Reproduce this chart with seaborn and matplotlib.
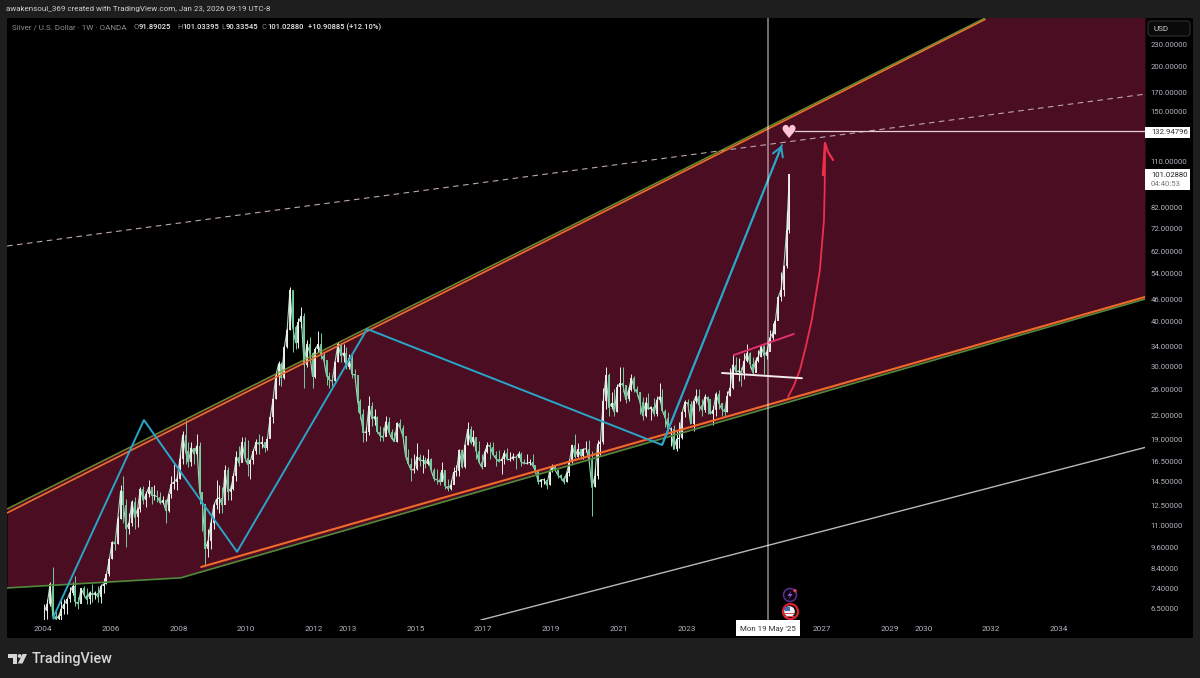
import numpy as np
import pandas as pd
import seaborn as sns
import matplotlib.pyplot as plt
from matplotlib.patches import Circle, FancyBboxPatch, Polygon, Rectangle
from matplotlib.transforms import Affine2D

W, H = 1200, 678

# Monthly candles, Jan 2004 - Jan 2026, one row a year.
bar_high = [
    6.7, 6.9, 7.7, 8.47, 6.4, 6.3, 6.9, 6.9, 6.95, 7.45, 7.7, 8.0,
    7.0, 7.4, 7.5, 7.4, 7.3, 7.6, 7.3, 7.5, 7.6, 7.9, 8.1, 9.0,
    10.0, 10.2, 11.7, 14.2, 15.0, 13.0, 11.9, 12.9, 13.2, 12.4, 14.0, 14.1,
    13.7, 14.7, 13.8, 14.2, 13.8, 13.6, 13.3, 13.0, 13.4, 15.0, 16.2, 15.2,
    17.3, 20.0, 21.4, 18.6, 18.6, 18.0, 19.6, 18.6, 13.6, 12.6, 10.8, 11.5,
    12.7, 14.7, 14.2, 14.0, 16.1, 15.9, 14.2, 15.3, 17.6, 18.2, 19.3, 19.2,
    18.9, 16.6, 17.8, 19.0, 19.6, 19.4, 18.7, 19.3, 22.0, 24.7, 29.0, 31.2,
    31.0, 34.3, 38.2, 49.5, 48.5, 39.0, 40.8, 43.7, 42.0, 35.5, 36.2, 33.0,
    34.0, 37.5, 37.2, 33.0, 30.8, 29.0, 28.5, 31.2, 35.0, 34.9, 34.6, 34.0,
    32.5, 32.4, 29.6, 28.0, 24.5, 23.0, 20.5, 25.0, 24.0, 23.0, 22.0, 20.6,
    20.5, 22.0, 21.8, 20.3, 19.9, 21.2, 21.5, 20.7, 19.4, 17.8, 16.9, 17.3,
    18.5, 17.3, 17.2, 17.0, 17.8, 16.9, 15.8, 15.7, 15.4, 16.4, 15.3, 14.8,
    14.7, 15.9, 16.1, 17.8, 17.8, 18.4, 21.1, 20.6, 20.1, 17.9, 18.8, 17.3,
    17.9, 18.6, 18.7, 18.7, 17.6, 17.7, 16.9, 17.7, 18.0, 17.5, 17.4, 17.0,
    17.6, 17.5, 16.8, 17.3, 16.7, 17.3, 16.0, 15.6, 14.8, 14.9, 14.6, 15.6,
    16.2, 16.0, 15.6, 15.2, 15.0, 15.5, 16.7, 18.3, 19.6, 18.5, 17.8, 18.0,
    18.8, 18.9, 17.6, 15.8, 18.9, 18.9, 26.2, 30.0, 28.9, 25.6, 26.0, 26.9,
    30.0, 30.0, 26.6, 26.6, 28.7, 28.3, 26.6, 25.6, 24.8, 24.8, 25.4, 23.3,
    24.7, 25.0, 27.0, 26.0, 23.0, 22.5, 20.5, 20.8, 20.0, 21.2, 22.3, 24.3,
    24.5, 24.2, 24.2, 26.1, 26.1, 24.5, 25.2, 25.0, 24.0, 23.4, 25.5, 25.9,
    23.8, 23.4, 25.8, 29.8, 32.5, 32.0, 31.8, 30.0, 32.7, 34.7, 33.0, 31.9,
    31.9, 33.3, 34.3, 34.5, 34.0, 37.8, 39.5, 40.5, 47.0, 54.5, 57.0, 80.0,
    101.03,
]
bar_low = [
    6.06, 6.1, 6.6, 6.1, 6.06, 6.06, 6.06, 6.3, 6.3, 6.8, 7.1, 6.6,
    6.5, 6.8, 7.0, 6.7, 6.7, 6.8, 6.9, 6.8, 6.75, 7.2, 7.6, 8.0,
    8.9, 9.4, 9.8, 11.5, 11.2, 9.6, 10.4, 11.0, 10.8, 10.9, 12.0, 12.6,
    12.4, 13.2, 12.6, 12.9, 12.8, 12.6, 12.6, 11.2, 12.0, 13.1, 13.9, 13.8,
    14.8, 16.2, 16.2, 15.9, 16.0, 16.2, 17.2, 12.6, 10.6, 8.5, 9.0, 9.5,
    10.8, 12.2, 11.9, 11.9, 13.8, 12.9, 12.9, 13.8, 14.6, 16.0, 16.4, 16.5,
    15.0, 14.8, 16.2, 17.3, 17.3, 18.0, 17.5, 17.7, 19.2, 21.0, 24.5, 26.8,
    26.6, 27.7, 33.8, 37.8, 33.0, 33.6, 33.7, 38.4, 26.3, 30.0, 31.0, 26.3,
    28.0, 33.0, 31.5, 30.5, 26.8, 26.2, 26.6, 27.2, 31.0, 31.0, 31.0, 29.5,
    29.5, 28.0, 28.0, 22.5, 21.5, 18.6, 18.8, 19.5, 20.6, 20.7, 19.8, 18.8,
    18.8, 19.6, 19.6, 19.0, 18.9, 18.7, 20.4, 19.2, 17.2, 16.3, 14.6, 15.3,
    15.6, 16.0, 15.3, 15.8, 16.1, 15.6, 14.6, 14.3, 14.2, 14.6, 13.9, 13.7,
    13.8, 14.3, 15.0, 15.0, 15.8, 15.8, 18.3, 18.4, 18.2, 16.7, 16.3, 15.7,
    16.0, 17.4, 16.8, 17.2, 16.0, 16.4, 15.2, 16.2, 16.6, 16.5, 16.6, 15.7,
    17.0, 16.0, 16.2, 16.2, 16.1, 16.0, 15.3, 14.3, 14.0, 14.3, 13.9, 14.2,
    15.4, 15.5, 14.9, 14.7, 14.3, 14.5, 15.0, 16.3, 16.9, 17.0, 16.7, 16.7,
    17.5, 16.6, 11.7, 14.0, 14.8, 17.2, 18.4, 23.0, 22.0, 22.9, 22.0, 22.5,
    24.2, 25.5, 23.8, 24.2, 25.8, 25.5, 24.9, 22.2, 21.4, 21.9, 22.9, 21.4,
    22.0, 22.0, 24.0, 22.6, 20.5, 20.2, 18.2, 17.9, 17.6, 18.0, 19.0, 21.9,
    22.7, 21.0, 20.0, 23.8, 22.7, 22.0, 22.5, 22.2, 22.2, 20.7, 22.0, 23.0,
    22.0, 22.0, 22.5, 25.0, 26.0, 28.6, 27.5, 26.5, 27.7, 31.0, 29.7, 28.5,
    29.1, 31.0, 32.0, 28.6, 31.6, 33.5, 35.5, 36.8, 40.3, 45.4, 46.9, 56.0,
    70.0,
]
bar_close = [
    6.4, 6.7, 7.6, 6.2, 6.1, 6.2, 6.5, 6.7, 6.9, 7.2, 7.5, 6.8,
    6.7, 7.4, 7.1, 6.9, 7.2, 7.1, 7.2, 7.0, 7.5, 7.6, 8.1, 8.9,
    9.9, 9.8, 11.5, 13.7, 12.5, 10.8, 11.2, 12.8, 11.6, 12.2, 13.9, 12.9,
    13.4, 14.0, 13.3, 13.3, 13.2, 12.7, 12.9, 12.1, 13.4, 14.3, 14.5, 14.8,
    16.8, 19.5, 17.6, 16.4, 18.0, 17.3, 18.2, 13.6, 12.6, 9.5, 10.0, 11.2,
    12.5, 13.0, 13.1, 12.5, 15.6, 13.6, 13.9, 15.0, 17.0, 16.3, 18.6, 16.9,
    16.2, 16.6, 17.6, 18.6, 18.4, 18.6, 18.0, 19.0, 21.8, 24.4, 28.3, 30.6,
    27.9, 33.9, 37.8, 48.7, 38.5, 34.9, 39.7, 41.3, 30.4, 34.6, 32.8, 28.2,
    33.5, 34.6, 32.4, 31.3, 28.3, 27.6, 27.4, 31.0, 34.6, 32.2, 32.7, 30.0,
    31.7, 28.6, 28.5, 24.1, 22.2, 19.8, 19.9, 23.4, 21.6, 21.9, 19.9, 19.4,
    19.2, 21.2, 19.9, 19.1, 18.7, 21.0, 20.4, 19.4, 17.0, 16.2, 15.6, 15.7,
    17.0, 16.6, 16.6, 16.2, 16.8, 15.6, 14.8, 14.7, 14.5, 15.6, 14.1, 13.9,
    14.2, 15.4, 15.5, 17.7, 15.9, 18.3, 20.2, 18.6, 19.2, 17.6, 16.4, 15.9,
    17.5, 18.3, 18.1, 17.2, 16.8, 16.5, 16.7, 17.4, 16.7, 16.7, 17.0, 16.9,
    17.3, 16.4, 16.3, 16.3, 16.4, 16.1, 15.5, 14.5, 14.7, 14.7, 14.2, 15.5,
    16.0, 15.6, 15.1, 14.9, 14.5, 15.3, 16.4, 18.3, 17.0, 17.8, 17.1, 17.8,
    17.9, 16.6, 14.0, 15.0, 18.4, 18.6, 24.2, 28.4, 23.2, 23.8, 22.6, 26.4,
    27.0, 26.7, 24.4, 25.9, 27.9, 26.1, 25.5, 24.0, 22.0, 23.9, 22.9, 23.3,
    22.3, 24.3, 24.8, 22.7, 21.7, 20.3, 20.3, 17.8, 19.0, 19.1, 22.5, 24.0,
    23.7, 20.9, 24.1, 25.0, 23.5, 22.8, 24.8, 24.5, 22.3, 22.8, 25.3, 23.8,
    23.0, 22.6, 25.0, 26.3, 30.4, 29.1, 29.2, 28.9, 31.2, 32.7, 30.6, 28.9,
    31.1, 32.0, 34.1, 32.2, 33.0, 36.0, 37.0, 40.0, 46.5, 48.7, 56.5, 71.0,
    101.03,
]

# Channel and drawing tools, (year, price).
upper_green_year = [2002.94, 2031.81]
upper_green_price = [12.22, 271.2]
upper_orange_year = [2002.94, 2031.81]
upper_orange_price = [11.92, 268.8]
lower_green_year = [2002.94, 2008.07, 2036.54]
lower_green_price = [7.42, 7.91, 46.0]
lower_orange_year = [2008.67, 2036.54]
lower_orange_price = [8.47, 46.6]
fill_year = [2002.94, 2008.07, 2036.54]
fill_top = [12.22, 21.27, 449.0]
fill_bottom = [7.42, 7.91, 46.0]
dashed_year = [2002.94, 2036.54]
dashed_price = [64.3, 167.8]
white_long_year = [2016.93, 2036.54]
white_long_price = [6.06, 18.02]
zigzag_year = [2004.295, 2006.98, 2009.73, 2013.57, 2022.28, 2025.82]
zigzag_price = [6.14, 21.43, 9.32, 38.07, 18.31, 121.6]
curve_year = [2026.0, 2026.17, 2026.35, 2026.53, 2026.7, 2026.82, 2026.94, 2027.0,
              2027.06, 2027.08, 2027.09, 2027.09]
curve_price = [24.8, 26.6, 29.4, 34.2, 40.3, 47.2, 55.3, 64.7, 75.8, 91.5, 107.2, 123.2]
curve_head_year = [2027.03, 2027.09, 2027.18, 2027.33]
curve_head_price = [100.6, 123.2, 116.5, 110.7]
pink_year = [2024.4, 2026.17]
pink_price = [32.3, 36.9]
flat_year = [2024.05, 2026.41]
flat_price = [28.84, 27.9]
target_year = [2026.2, 2036.54]
target_price = [132.94796, 132.94796]
heart_year = 2026.0
heart_price = 131.4
cursor_year = 2025.4

price_ticks = [230, 200, 170, 150, 110, 82, 72, 62, 54, 46, 40, 34, 30, 26, 22,
               19, 16.5, 14.5, 12.5, 11, 9.6, 8.4, 7.4, 6.5]
year_ticks = [2004, 2006, 2008, 2010, 2012, 2013, 2015, 2017, 2019, 2021, 2023,
              2027, 2029, 2030, 2032, 2034]

BG = "#1e1e1e"
MAROON = "#4a0d22"
TICK = "#b2b5be"
BLUE = "#2aa5c8"
RED = "#ee2f4a"

sns.set_theme(style="dark")
plt.rcParams["font.family"] = ["Roboto", "DejaVu Sans"]
pix = Affine2D().scale(1, -1).translate(0, H)


def ftext(x, y, s, **kw):
    kw.setdefault("va", "center")
    kw.setdefault("fontsize", 5.6)
    kw.setdefault("color", TICK)
    return fig.text(x / W, 1 - y / H, s, **kw)


def draw(ax, xs, ys, color, lw, **kw):
    sns.lineplot(x=xs, y=ys, ax=ax, color=color, linewidth=lw, estimator=None,
                 sort=False, legend=False, **kw)


fig = plt.figure(figsize=(W / 100, H / 100), dpi=100, facecolor=BG)
fig.add_artist(Rectangle((7, 18), 1186, 620, transform=pix, facecolor="black",
                         edgecolor="none", zorder=-5))
ax = fig.add_axes([7 / W, 1 - 620 / H, 1138 / W, 602 / H], facecolor="black")
ax.set_yscale("log")
ax.set_xlim(2002.937, 2036.54)
ax.set_ylim(6.06, 271.4)

ax.fill_between(fill_year, fill_bottom, fill_top, color=MAROON, lw=0, zorder=1)

# candles, thin close line first so the monthly bars read as one dense band
months = pd.date_range("2004-01-01", "2026-01-01", freq="MS")
bar_year = months.year + (months.month - 0.5) / 12
bar_open = [bar_close[0]] + bar_close[:-1]
bar_up = np.array(bar_close) >= np.array(bar_open)
bar_color = np.where(bar_up, "#eef0ee", "#74cf9f")
draw(ax, list(bar_year), bar_close, "#a9dcc0", 0.8, zorder=2)
ax.vlines(bar_year, bar_low, bar_high, colors=bar_color, lw=0.7, zorder=2)
ax.vlines(bar_year, bar_open, bar_close, colors=bar_color, lw=1.3, zorder=2)

draw(ax, dashed_year, dashed_price, "#bda7b0", 0.8, linestyle=(0, (5, 4)), zorder=3)
draw(ax, white_long_year, white_long_price, "#b8b8b8", 1.0, zorder=3)
draw(ax, upper_orange_year, upper_orange_price, "#e8702a", 1.2, zorder=3)
draw(ax, upper_green_year, upper_green_price, "#7fa03a", 1.1, alpha=0.85, zorder=3)
draw(ax, lower_green_year, lower_green_price, "#4f8a3a", 1.2, zorder=3)
draw(ax, lower_orange_year, lower_orange_price, "#ef6a2a", 1.5, zorder=3)
draw(ax, zigzag_year, zigzag_price, BLUE, 1.4, zorder=4)
ax.annotate("", xy=(zigzag_year[-1], zigzag_price[-1]),
            xytext=(zigzag_year[-2], zigzag_price[-2]), zorder=4,
            arrowprops=dict(arrowstyle="->,head_length=0.55,head_width=0.32",
                            color=BLUE, lw=1.4, shrinkA=0, shrinkB=0))
draw(ax, curve_year, curve_price, RED, 1.3, zorder=4)
draw(ax, curve_head_year, curve_head_price, RED, 1.6, zorder=4)
draw(ax, pink_year, pink_price, "#e0306f", 1.4, zorder=4)
draw(ax, flat_year, flat_price, "#f2eaec", 1.4, zorder=4)
draw(ax, target_year, target_price, "#e8cdd6", 0.9, zorder=4)
ax.axvline(cursor_year, color="#ffffff", alpha=0.55, lw=1.1, zorder=5)
ax.text(heart_year, heart_price, "\u2665", color="#ffc4da", fontsize=13,
        ha="center", va="center", family="DejaVu Sans", zorder=6)

ax.minorticks_off()
ax.set_yticks(price_ticks)
ax.set_yticklabels([f"{v:.5f}" for v in price_ticks])
ax.minorticks_off()
ax.set_xticks(year_ticks)
ax.set_xticklabels([str(v) for v in year_ticks])
ax.tick_params(axis="y", left=False, right=False, labelleft=False, labelright=True,
               length=0, pad=4.2, labelsize=5.6, labelcolor=TICK)
ax.tick_params(axis="x", bottom=False, length=0, pad=4.2, labelsize=5.9, labelcolor=TICK)
ax.grid(False)
for s in ax.spines.values():
    s.set_visible(False)

# top strip and legend
ftext(6.5, 9.5, "awakensoul_369 created with TradingView.com, Jan 23, 2026 09:19 UTC-8",
      color="#d0d0d0", fontsize=5.75)
ftext(12, 27, "Silver / U.S. Dollar \u00b7 1W \u00b7 OANDA", color="#8d8d8d", fontsize=5.8)
for x, lab, val in [(134, "O", "91.89025"), (177, "H", "101.03395"),
                    (221, "L", "90.33545"), (262, "C", "101.02880")]:
    ftext(x, 27, lab, color="#8d8d8d", fontsize=5.5)
    ftext(x + 5, 27, val, color="#e8e8e8", fontsize=5.5, fontweight="medium")
ftext(307.5, 27, "+10.90885 (+12.10%)", color="#e8e8e8", fontsize=5.5, fontweight="medium")

# price scale extras
fig.add_artist(FancyBboxPatch((1148, 21), 42, 15, transform=pix, zorder=8,
                              boxstyle="round,pad=0,rounding_size=3",
                              facecolor="#0a0a0a", edgecolor="#2e2e2e", lw=0.8))
ftext(1153, 29, "USD", color="#c8c8c8", fontsize=5.9, zorder=9)
fig.add_artist(Rectangle((1145, 127), 45, 10.5, transform=pix, facecolor="white",
                         edgecolor="none", zorder=8))
ftext(1151, 132.3, "132.94796", color="#333333", zorder=9)
fig.add_artist(Rectangle((1145, 169), 45, 21, transform=pix, facecolor="white",
                         edgecolor="none", zorder=8))
ftext(1151, 175, "101.02880", color="#222222", zorder=9)
ftext(1151, 184.5, "04:40:53", color="#777777", zorder=9)

# cursor date box
fig.add_artist(Rectangle((736, 620), 64, 16, transform=pix, facecolor="white",
                         edgecolor="none", zorder=8))
ftext(768, 629.5, "Mon 19 May '25", color="#333333", ha="center", fontsize=5.7, zorder=9)

# event badges
fig.add_artist(Circle((790, 595), 6.5, transform=pix, facecolor="#0b0614",
                      edgecolor="#5e2f90", lw=1.1, zorder=8))
fig.add_artist(Polygon([(791.5, 590.5), (787.5, 596), (790, 596), (788.5, 599.5),
                        (792.5, 594), (790, 594)], transform=pix,
                       facecolor="#9a55d8", edgecolor="none", zorder=9))
fig.add_artist(Circle((795, 590.7), 1.7, transform=pix, facecolor="#e0405a",
                      edgecolor="none", zorder=9))
fig.add_artist(Circle((790.5, 611.5), 7.5, transform=pix, facecolor="#0d0d0d",
                      edgecolor="#d8202f", lw=1.6, zorder=8))
fig.add_artist(Circle((789.5, 611.5), 5.3, transform=pix, facecolor="#f2f2f2",
                      edgecolor="none", zorder=9))
fig.add_artist(Rectangle((785, 607), 5, 4, transform=pix, facecolor="#3b6fc0",
                         edgecolor="none", zorder=10))
for yy in (613, 615.5):
    fig.add_artist(Rectangle((785, yy), 9, 1.1, transform=pix, facecolor="#d84a55",
                             edgecolor="none", zorder=10))

# TradingView mark
LOGO = "#d6d6d6"
fig.add_artist(Polygon([(8, 654), (17, 654), (17, 663.5), (13, 663.5), (13, 658), (8, 658)],
                       transform=pix, facecolor=LOGO, edgecolor="none"))
fig.add_artist(Circle((19.6, 656), 1.9, transform=pix, facecolor=LOGO, edgecolor="none"))
fig.add_artist(Polygon([(22.5, 654), (27, 654), (22.5, 663.5), (17.8, 663.5)],
                       transform=pix, facecolor=LOGO, edgecolor="none"))
ftext(32, 658.5, "TradingView", color="#d6d6d6", fontsize=10.4, fontweight="medium")

fig.savefig("out.png", dpi=100, facecolor=BG)
